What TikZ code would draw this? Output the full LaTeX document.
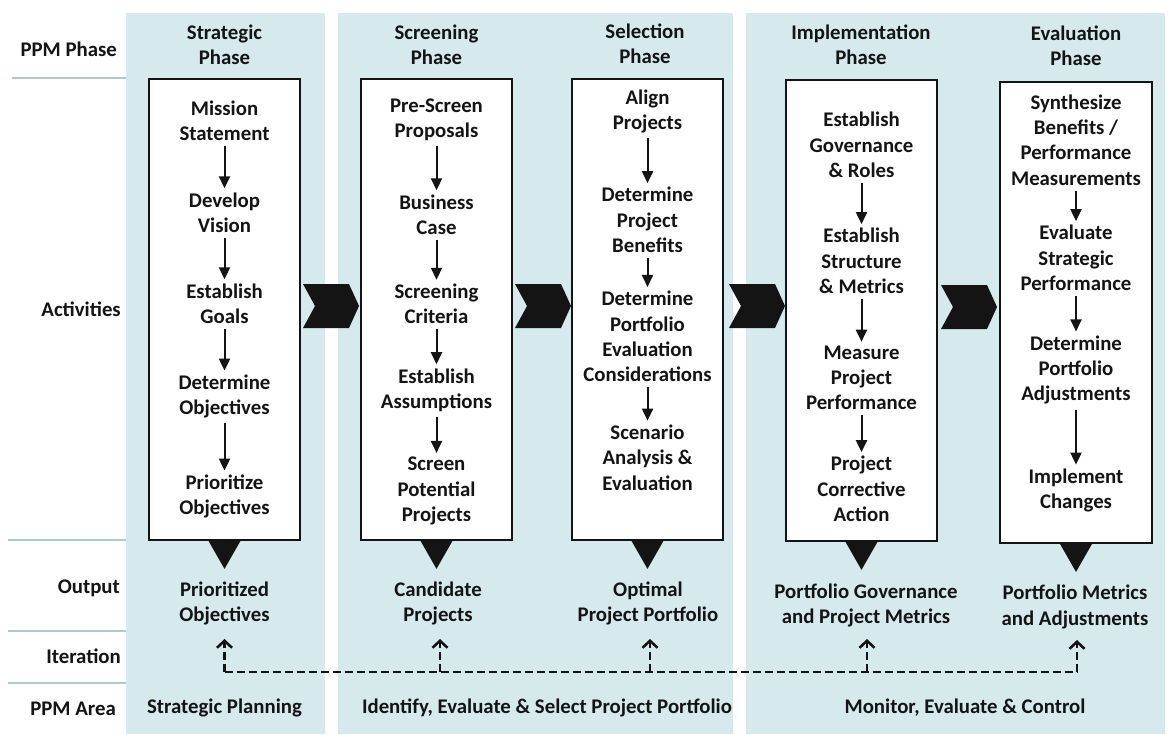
\documentclass[tikz,border=0pt]{standalone}
\usepackage{fontspec}
\setmainfont{Carlito}
\usetikzlibrary{arrows.meta}
\definecolor{panelc}{HTML}{D6EAED}
\definecolor{rulec}{HTML}{B0C9D0}
\definecolor{inkc}{HTML}{141414}
\begin{document}
\begin{tikzpicture}[x=1pt,y=-1pt,
  txt/.style={font=\fontsize{20.8}{25.3}\selectfont\bfseries, text=inkc, align=center, inner sep=1pt},
  lbl/.style={txt, anchor=east},
  actbox/.style={draw=inkc, fill=white, line width=1.8pt, minimum width=151pt, minimum height=461pt, inner sep=0pt},
  flow/.style={-{Triangle[width=11pt,length=12pt]}, line width=2pt, draw=inkc, shorten <=4pt, shorten >=3pt},
  iter/.style={line width=2.6pt, draw=inkc, dash pattern=on 8pt off 4pt},
  itarrow/.style={iter, -{Straight Barb[length=7pt,width=15pt,line width=2.6pt]}},
  rowrule/.style={draw=rulec, line width=2pt},
  chev/.style={fill=inkc},
  outtri/.style={fill=inkc}
]
\useasboundingbox (0,0) rectangle (1169,734);
\fill[white] (0,0) rectangle (1169,734);
% panels
\fill[panelc] (126,13) rectangle (325,734);
\fill[panelc] (338,13) rectangle (733,734);
\fill[panelc] (746,13) rectangle (1165,734);
% row rules
\draw[rowrule] (12,78) -- (126,78);
\draw[rowrule] (8,540) -- (126,540);
\draw[rowrule] (8,631) -- (126,631);
\draw[rowrule] (8,683) -- (126,683);
% row labels
\node[lbl] (lphase) at (118,49) {PPM Phase};
\node[lbl] (lact) at (122,309) {Activities};
\node[lbl] (lout) at (121,588) {Output};
\node[lbl] (liter) at (122,656) {Iteration};
\node[lbl] (larea) at (117,709) {PPM Area};
% headers
\node[txt] (h1) at (224.5,45) {Strategic\\Phase};
\node[txt] (h2) at (436.5,45) {Screening\\Phase};
\node[txt] (h3) at (645,44) {Selection\\Phase};
\node[txt] (h4) at (861,45) {Implementation\\Phase};
\node[txt] (h5) at (1076,46) {Evaluation\\Phase};
% boxes
\node[actbox] (b1) at (224.5,309.5) {};
\node[actbox] (b2) at (436.5,309.5) {};
\node[actbox] (b3) at (647.5,309.5) {};
\node[actbox] (b4) at (861.5,310.5) {};
\node[actbox, minimum width=152pt] (b5) at (1076,312.5) {};
% chevrons
\foreach \L/\T in {303/284, 515/284, 729/284, 941/285}{
  \fill[chev] (\L,\T) -- ++(46,0) -- ++(10,22) -- ++(-10,22) -- ++(-46,0) -- ++(12,-22) -- cycle;
}
% output triangles
\foreach \b in {b1,b2,b3,b4,b5}{
  \fill[outtri] ([xshift=-16pt]\b.south) -- ([xshift=16pt]\b.south) -- ([yshift=-28pt]\b.south) -- cycle;
}
% box 1
\node[txt] (a11) at (224.5,121) {Mission\\Statement};
\node[txt] (a12) at (224.5,212.5) {Develop\\Vision};
\node[txt] (a13) at (224.5,303.5) {Establish\\Goals};
\node[txt] (a14) at (224.5,396.5) {Determine\\Objectives};
\node[txt] (a15) at (224.5,496.5) {Prioritize\\Objectives};
\draw[flow] (a11.south) -- (a12.north);
\draw[flow] (a12.south) -- (a13.north);
\draw[flow] (a13.south) -- (a14.north);
\draw[flow] (a14.south) -- (a15.north);
% box 2
\node[txt] (a21) at (436.5,119.5) {Pre-Screen\\Proposals};
\node[txt] (a22) at (436.5,214.5) {Business\\Case};
\node[txt] (a23) at (436.5,304) {Screening\\Criteria};
\node[txt] (a24) at (436.5,390) {Establish\\Assumptions};
\node[txt] (a25) at (436.5,491) {Screen\\Potential\\Projects};
\draw[flow] (a21.south) -- (a22.north);
\draw[flow] (a22.south) -- (a23.north);
\draw[flow] (a23.south) -- (a24.north);
\draw[flow] (a24.south) -- (a25.north);
% box 3
\node[txt] (a31) at (647.5,111.5) {Align\\Projects};
\node[txt] (a32) at (647.5,220) {Determine\\Project\\Benefits};
\node[txt] (a33) at (647.5,336.5) {Determine\\Portfolio\\Evaluation\\Considerations};
\node[txt] (a34) at (647.5,457.5) {Scenario\\Analysis \&\\Evaluation};
\draw[flow] (a31.south) -- (a32.north);
\draw[flow] (a32.south) -- (a33.north);
\draw[flow] (a33.south) -- (a34.north);
% box 4
\node[txt] (a41) at (861.5,145) {Establish\\Governance\\\& Roles};
\node[txt] (a42) at (861.5,261) {Establish\\Structure\\\& Metrics};
\node[txt] (a43) at (861.5,378) {Measure\\Project\\Performance};
\node[txt] (a44) at (861.5,489) {Project\\Corrective\\Action};
\draw[flow] (a41.south) -- (a42.north);
\draw[flow] (a42.south) -- (a43.north);
\draw[flow] (a43.south) -- (a44.north);
% box 5
\node[txt] (a51) at (1076,140) {Synthesize\\Benefits /\\Performance\\Measurements};
\node[txt] (a52) at (1076,258) {Evaluate\\Strategic\\Performance};
\node[txt] (a53) at (1076,370) {Determine\\Portfolio\\Adjustments};
\node[txt] (a54) at (1076,490.5) {Implement\\Changes};
\draw[flow] (a51.south) -- (a52.north);
\draw[flow] (a52.south) -- (a53.north);
\draw[flow] (a53.south) -- (a54.north);
% outputs
\node[txt] (o1) at (224.5,603.5) {Prioritized\\Objectives};
\node[txt] (o2) at (438,603.5) {Candidate\\Projects};
\node[txt] (o3) at (648,603.5) {Optimal\\Project Portfolio};
\node[txt] (o4) at (866,605.5) {Portfolio Governance\\and Project Metrics};
\node[txt] (o5) at (1075,607) {Portfolio Metrics\\and Adjustments};
% iteration
\coordinate (i1) at (224.5,672); \coordinate (t1) at (224.5,639);
\coordinate (i2) at (440,672);   \coordinate (t2) at (440,639);
\coordinate (i3) at (650,672);   \coordinate (t3) at (650,639);
\coordinate (i4) at (867,672);   \coordinate (t4) at (867,639);
\coordinate (i5) at (1077,672);  \coordinate (t5) at (1077,640);
\draw[iter] (i1) -- (i5);
\foreach \k in {1,...,5}{ \draw[itarrow] (i\k) -- (t\k); }
% PPM area
\node[txt] (p1) at (224.5,708) {Strategic Planning};
\node[txt] (p2) at (547,708) {Identify, Evaluate \& Select Project Portfolio};
\node[txt] (p3) at (965,708) {Monitor, Evaluate \& Control};
\end{tikzpicture}
\end{document}
